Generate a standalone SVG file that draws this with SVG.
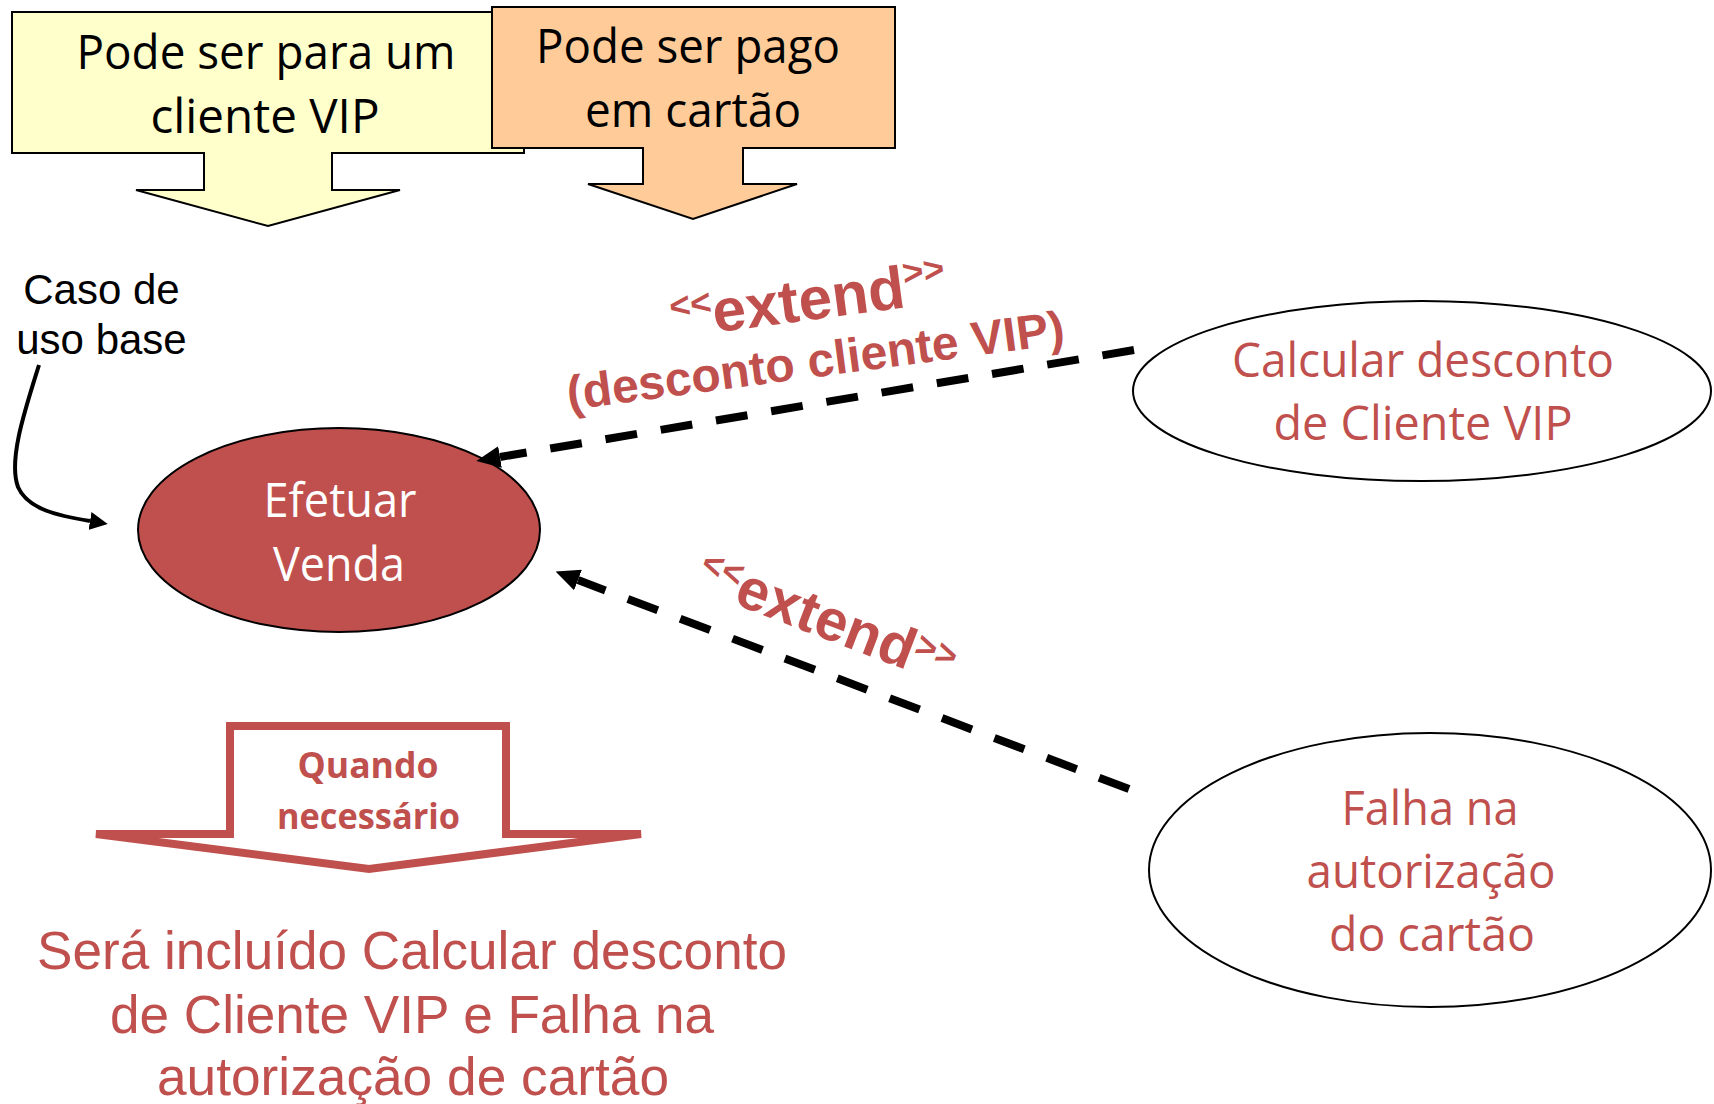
<svg xmlns="http://www.w3.org/2000/svg" width="1714" height="1104" viewBox="0 0 1714 1104">
<defs>
<style>
.cal{font-family:"Open Sans","Noto Sans",sans-serif;font-size:47px;text-anchor:middle}
.calb{font-family:"Open Sans","Noto Sans",sans-serif;font-size:36px;font-weight:bold;text-anchor:middle}
.blk{fill:#000}
.red{fill:#C0504D}
.wht{fill:#FFFFFF}
.ari{font-family:"Liberation Sans",Arial,sans-serif}
.lbl{font-family:"Liberation Sans",Arial,sans-serif;font-weight:bold;fill:#C0504D}
.uc{stroke:#000;stroke-width:2}
.dash{stroke:#000;stroke-width:8;stroke-dasharray:32 24;fill:none}
</style>
<marker id="ah" viewBox="0 0 24 22" markerWidth="24" markerHeight="22" markerUnits="userSpaceOnUse" refX="0" refY="11" orient="auto">
<path d="M0,0 L24,11 L0,22 Z" fill="#000"/>
</marker>
<marker id="ahs" viewBox="0 0 18 18" markerWidth="18" markerHeight="18" markerUnits="userSpaceOnUse" refX="0" refY="9" orient="auto">
<path d="M0,0 L18,9 L0,18 Z" fill="#000"/>
</marker>
</defs>
<rect width="1714" height="1104" fill="#FFFFFF"/>

<g id="callout-vip">
<path d="M12,12 H524 V153 H332 V190 H400 L268,226 L136,190 H204 V153 H12 Z" fill="#FFFFCC" stroke="#000" stroke-width="2"/>
<text class="cal blk" x="266" y="69" textLength="379" lengthAdjust="spacingAndGlyphs">Pode ser para um</text>
<text class="cal blk" x="265" y="133" textLength="229" lengthAdjust="spacingAndGlyphs">cliente VIP</text>
</g>

<g id="callout-cartao">
<path d="M492,7 H895 V148 H743 V184 H797 L693,219 L588,184 H643 V148 H492 Z" fill="#FFCC99" stroke="#000" stroke-width="2"/>
<text class="cal blk" x="688" y="63" textLength="304" lengthAdjust="spacingAndGlyphs">Pode ser pago</text>
<text class="cal blk" x="693" y="127" textLength="216" lengthAdjust="spacingAndGlyphs">em cartão</text>
</g>

<g id="note-base">
<text class="ari blk" x="101.5" y="304" font-size="42" text-anchor="middle">Caso de</text>
<text class="ari blk" x="101.5" y="354" font-size="42" text-anchor="middle">uso base</text>
</g>

<g id="efetuar-venda">
<ellipse class="uc" cx="339" cy="530" rx="201" ry="102" fill="#C0504D"/>
<text class="cal wht" x="340" y="517" textLength="153" lengthAdjust="spacingAndGlyphs">Efetuar</text>
<text class="cal wht" x="339" y="581" textLength="132" lengthAdjust="spacingAndGlyphs">Venda</text>
</g>

<g id="calcular-desconto">
<ellipse class="uc" cx="1422" cy="391" rx="289" ry="90" fill="#FFFFFF"/>
<text class="cal red" x="1423" y="377" textLength="382" lengthAdjust="spacingAndGlyphs">Calcular desconto</text>
<text class="cal red" x="1423" y="440" textLength="299" lengthAdjust="spacingAndGlyphs">de Cliente VIP</text>
</g>

<g id="falha-autorizacao">
<ellipse class="uc" cx="1430" cy="870" rx="281" ry="137" fill="#FFFFFF"/>
<text class="cal red" x="1430" y="825" textLength="177" lengthAdjust="spacingAndGlyphs">Falha na</text>
<text class="cal red" x="1431" y="888" textLength="249" lengthAdjust="spacingAndGlyphs">autorização</text>
<text class="cal red" x="1432" y="951" textLength="206" lengthAdjust="spacingAndGlyphs">do cartão</text>
</g>

<g id="quando-necessario">
<path d="M230,726 H506 V834 H641 L369,869 L96,834 H230 Z" fill="#FFFFFF" stroke="#C0504D" stroke-width="8"/>
<text class="calb red" x="368" y="778" textLength="141" lengthAdjust="spacingAndGlyphs">Quando</text>
<text class="calb red" x="368.5" y="829" textLength="183" lengthAdjust="spacingAndGlyphs">necessário</text>
</g>

<g id="resultado">
<text class="ari red" x="412" y="969" font-size="53" text-anchor="middle" textLength="750" lengthAdjust="spacingAndGlyphs">Será incluído Calcular desconto</text>
<text class="ari red" x="412" y="1033" font-size="53" text-anchor="middle" textLength="604" lengthAdjust="spacingAndGlyphs">de Cliente VIP e Falha na</text>
<text class="ari red" x="413" y="1095" font-size="53" text-anchor="middle" textLength="512" lengthAdjust="spacingAndGlyphs">autorização de cartão</text>
</g>

<g id="connectors">
<path d="M39,365 C25,410 8,460 18,487 C28,510 60,516 90,521" fill="none" stroke="#000" stroke-width="4" marker-end="url(#ahs)"/>
<line class="dash" x1="1134" y1="350" x2="500" y2="457" marker-end="url(#ah)"/>
<line class="dash" x1="1129" y1="789" x2="578" y2="580" marker-end="url(#ah)"/>
<text class="lbl" transform="translate(719,332) rotate(-7.5)" x="-46" font-size="60"><tspan font-size="36" dy="-19">&lt;&lt;</tspan><tspan dy="19">extend</tspan><tspan font-size="36" dy="-22">&gt;&gt;</tspan></text>
<text class="lbl" transform="translate(569,410) rotate(-7.6)" font-size="48">(desconto cliente VIP)</text>
<text class="lbl" transform="translate(734,604) rotate(21)" x="-44" font-size="58"><tspan font-size="36" dy="-17">&lt;&lt;</tspan><tspan dy="17">extend</tspan><tspan font-size="36" dy="-17">&gt;&gt;</tspan></text>
</g>
</svg>
